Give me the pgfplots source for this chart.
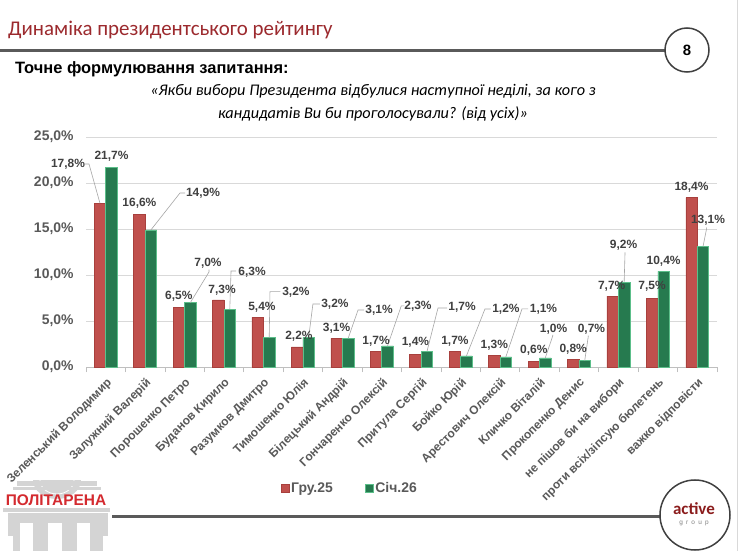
\documentclass[border=0pt]{standalone}
\usepackage{fontspec}
\setmainfont{Liberation Sans}
\newfontfamily\carlito{Carlito}
\usepackage{pgfplots}
\pgfplotsset{compat=1.18}
\usepackage{pgfplotstable}
\definecolor{titlered}{HTML}{9C2A2E}
\definecolor{barred}{HTML}{C0504D}
\definecolor{barredline}{HTML}{A8403D}
\definecolor{bargreen}{HTML}{267A4F}
\definecolor{bargreenline}{HTML}{5CBF8A}
\definecolor{labgray}{HTML}{595959}
\definecolor{labtext}{HTML}{404040}
\definecolor{gridgray}{HTML}{D9D9D9}
\definecolor{axisgray}{HTML}{BFBFBF}
\definecolor{leadergray}{HTML}{A6A6A6}
\definecolor{rulegray}{HTML}{5A5A5A}
\definecolor{logogray}{HTML}{D4D4D4}
\definecolor{logored}{HTML}{D42A2F}
\definecolor{activered}{HTML}{8B1C1C}

\tikzset{
  dlab/.style={font=\bfseries\fontsize{12}{14}\selectfont, text=labtext, inner sep=0pt},
  leader/.style={draw=leadergray, line width=0.6bp},
}
\newcommand{\dl}[5]{\node[dlab] at ([xshift=#3bp,yshift=#4bp]axis cs:#1,#2) {#5};}
\newcommand{\ldr}[8]{\draw[leader] ([xshift=#3bp,yshift=#4bp]axis cs:#1,#2) -- ([xshift=#5bp,yshift=#6bp]axis cs:#1,#2) -- ([xshift=#7bp,yshift=#8bp]axis cs:#1,#2);}

\pgfplotstableread{
idx g25 s26
0 17.8 21.7
1 16.6 14.9
2 6.5 7.0
3 7.3 6.3
4 5.4 3.2
5 2.2 3.2
6 3.1 3.1
7 1.7 2.3
8 1.4 1.7
9 1.7 1.2
10 1.3 1.1
11 0.6 1.0
12 0.8 0.7
13 7.7 9.2
14 7.5 10.4
15 18.4 13.1
}\ratingdata

\begin{document}
\begin{tikzpicture}
\useasboundingbox (0,0) rectangle (740bp,-551bp);
\fill[white] (0,0) rectangle (740bp,-551bp);
\begin{scope}[x=1bp,y=-1bp]
  % right border
  \draw[gray!30, line width=1bp] (737,0) -- (737,551);
  % title
  \node[anchor=base west, inner sep=0pt, text=titlered, font=\carlito\fontsize{21}{25}\selectfont] at (8,35) {Динаміка президентського рейтингу};
  \draw[rulegray, line width=3bp] (0,50) -- (666,50);
  \draw[draw=black!75, line width=1.5bp, fill=white] (687,50) circle (22);
  \node[font=\bfseries\fontsize{15}{17}\selectfont] at (687,50) {8};
  % question
  \node[anchor=base west, inner sep=0pt, font=\bfseries\fontsize{16.5}{19}\selectfont] at (15,73) {Точне формулювання запитання:};
  \node[anchor=base, inner sep=0pt, font=\carlito\itshape\fontsize{16.3}{19}\selectfont] at (373,95) {«Якби вибори Президента відбулися наступної неділі, за кого з};
  \node[anchor=base, inner sep=0pt, font=\carlito\itshape\fontsize{16.3}{19}\selectfont] at (373,118) {кандидатів Ви би проголосували? (від усіх)»};
  % bottom rule and logo circle
  \draw[rulegray, line width=3bp] (112,516) -- (662,516);
  \draw[draw=black!75, line width=1.5bp, fill=white] (695,515) circle (35);
  \node[font=\carlito\bfseries\fontsize{17}{19}\selectfont, text=activered, inner sep=0pt] at (694,509) {active};
  \node[font=\fontsize{6.5}{7}\selectfont, text=gray, inner sep=0pt] at (694,523) {g\hspace{3.2bp}r\hspace{3.2bp}o\hspace{3.2bp}u\hspace{3.2bp}p};
  % Politarena logo
  \fill[logogray] (33,480) arc[start angle=180, end angle=0, x radius=24, y radius=19] -- cycle;
  \draw[white, line width=0.8bp] (40,480) arc[start angle=180, end angle=0, x radius=17, y radius=14];
  \draw[white, line width=0.8bp] (57,466) -- (57,480);
  \fill[logogray] (17,481) rectangle (97,486);
  \fill[logogray] (13,487) rectangle (101,490);
  \fill[logogray] (3,508) rectangle (110,512);
  \fill[logogray] (8,513) rectangle (108,551);
  \fill[white] (20,523) rectangle (33,551);
  \fill[white] (48,523) rectangle (62,551);
  \fill[white] (77,523) rectangle (90,551);
  \fill[white] (8,536) rectangle (13,551);
  \fill[white] (103,536) rectangle (108,551);
  \node[font=\bfseries\fontsize{15.5}{17}\selectfont, text=logored, inner sep=0pt] at (56,500) {ПОЛІТАРЕНА};
\end{scope}

\begin{axis}[
  at={(86bp,-367bp)}, anchor=south west,
  scale only axis, width=631bp, height=230bp,
  xmin=-0.5, xmax=15.5, ymin=0, ymax=25,
  ybar=0pt, bar width=11.5bp,
  axis x line*=bottom, axis y line*=left,
  x axis line style={draw=axisgray, line width=0.75bp, -},
  y axis line style={draw=none},
  xtick={0,...,15},
  xticklabels={Зеленський Володимир, Залужний Валерій, Порошенко Петро, Буданов Кирило, Разумков Дмитро, Тимошенко Юлія, Білецький Андрій, Гончаренко Олексій, Притула Сергій, Бойко Юрій, Арестович Олексій, Кличко Віталій, Прокопенко Денис, не пішов би на вибори, проти всіх/зіпсую бюлетень, важко відповісти},
  major x tick style={draw=none},
  minor xtick={-0.5,0.5,...,15.5},
  minor x tick style={draw=axisgray, line width=0.75bp},
  minor tick length=5bp,
  tick align=outside,
  ytick={0,5,...,25},
  major y tick style={draw=none},
  ymajorgrids, major grid style={draw=gridgray, line width=0.75bp},
  xticklabel style={rotate=45, anchor=north east, font=\bfseries\fontsize{12}{14}\selectfont, text=labgray, inner sep=0pt, yshift=-4bp, xshift=-4bp},
  yticklabel style={font=\bfseries\fontsize{14}{16}\selectfont, text=labgray, inner sep=0pt, xshift=-8bp},
  yticklabel={\pgfmathprintnumber[fixed,fixed zerofill,precision=1,use comma]{\tick}\%},
  /pgf/number format/assume math mode=true,
  legend style={at={(0.418,-0.526)}, anchor=center, draw=none, fill=none,
    legend columns=2, font=\bfseries\fontsize{14}{16}\selectfont, text=labgray,
    /tikz/every even column/.append style={column sep=30bp}},
  legend cell align=left,
  clip=false,
]
\addplot[fill=barred, draw=barredline, line width=0.5bp,
  legend image code/.code={\draw[fill=barred, draw=barredline, line width=0.5bp] (0bp,-4bp) rectangle (8bp,4bp);}]
  table[x=idx,y=g25]{\ratingdata};
\addplot[fill=bargreen, draw=bargreenline, line width=0.6bp,
  legend image code/.code={\draw[fill=bargreen, draw=bargreenline, line width=0.5bp] (0bp,-4bp) rectangle (8bp,4bp);}]
  table[x=idx,y=s26]{\ratingdata};
\legend{Гру.25,Січ.26}

% leader lines
\ldr{0}{17.8}{-5.75}{0}{-16.7}{39.2}{-20.7}{39.2}
\ldr{1}{14.9}{5.75}{0}{34.8}{36.9}{40}{36.9}
\ldr{2}{7.0}{5.75}{0}{24.4}{30.6}{24.4}{33}
\ldr{3}{6.3}{5.75}{0}{7}{38}{12}{38}
\ldr{4}{3.2}{5.75}{0}{6.5}{46}{17}{46}
\ldr{5}{3.2}{5.75}{0}{10}{33.6}{17}{33.6}
\ldr{6}{3.1}{5.75}{0}{15.7}{28.5}{21.7}{28.5}
\ldr{7}{2.3}{5.75}{0}{19.5}{40}{22.5}{40}
\ldr{8}{1.7}{5.75}{0}{16.8}{43.4}{26}{43.4}
\ldr{9}{1.2}{5.75}{0}{24.3}{47}{30}{47}
\ldr{10}{1.1}{5.75}{0}{21.9}{48}{28}{48}
\ldr{11}{1.0}{5.75}{0}{13.2}{21.8}{13.2}{23}
\ldr{12}{0.7}{5.75}{0}{9.3}{24}{9.3}{25}
\ldr{13}{9.2}{5.75}{0}{6.6}{29}{6.6}{30}
\ldr{15}{13.1}{5.75}{0}{9.4}{18.2}{9.4}{19}

% data labels Гру.25
\dl{0}{17.8}{-37.7}{39.2}{17,8\%}
\dl{1}{16.6}{-5.75}{11}{16,6\%}
\dl{2}{6.5}{-5.75}{11}{6,5\%}
\dl{3}{7.3}{-2}{10}{7,3\%}
\dl{4}{5.4}{-1.5}{10.3}{5,4\%}
\dl{5}{2.2}{-4}{10.5}{2,2\%}
\dl{6}{3.1}{-5.75}{10}{3,1\%}
\dl{7}{1.7}{-5.75}{10}{1,7\%}
\dl{8}{1.4}{-5.75}{11.5}{1,4\%}
\dl{9}{1.7}{-5.75}{10}{1,7\%}
\dl{10}{1.3}{-5.75}{9.5}{1,3\%}
\dl{11}{0.6}{-5.75}{11.5}{0,6\%}
\dl{12}{0.8}{-5.75}{10.6}{0,8\%}
\dl{13}{7.7}{-6.7}{10}{7,7\%}
\dl{14}{7.5}{-5.8}{11.3}{7,5\%}
\dl{15}{18.4}{-5.75}{10.7}{18,4\%}
% data labels Січ.26
\dl{0}{21.7}{5.75}{11.4}{21,7\%}
\dl{1}{14.9}{57.8}{36.9}{14,9\%}
\dl{2}{7.0}{23.4}{39.6}{7,0\%}
\dl{3}{6.3}{28}{37}{6,3\%}
\dl{4}{3.2}{32.5}{45.6}{3,2\%}
\dl{5}{3.2}{32}{33.6}{3,2\%}
\dl{6}{3.1}{36.7}{28.5}{3,1\%}
\dl{7}{2.3}{36.2}{39.8}{2,3\%}
\dl{8}{1.7}{40.8}{44.4}{1,7\%}
\dl{9}{1.2}{45.3}{47}{1,2\%}
\dl{10}{1.1}{43.4}{48}{1,1\%}
\dl{11}{1.0}{14}{28.8}{1,0\%}
\dl{12}{0.7}{12.5}{31.6}{0,7\%}
\dl{13}{9.2}{5.1}{37.4}{9,2\%}
\dl{14}{10.4}{5.75}{10}{10,4\%}
\dl{15}{13.1}{10.7}{25.8}{13,1\%}
\end{axis}
\end{tikzpicture}
\end{document}
